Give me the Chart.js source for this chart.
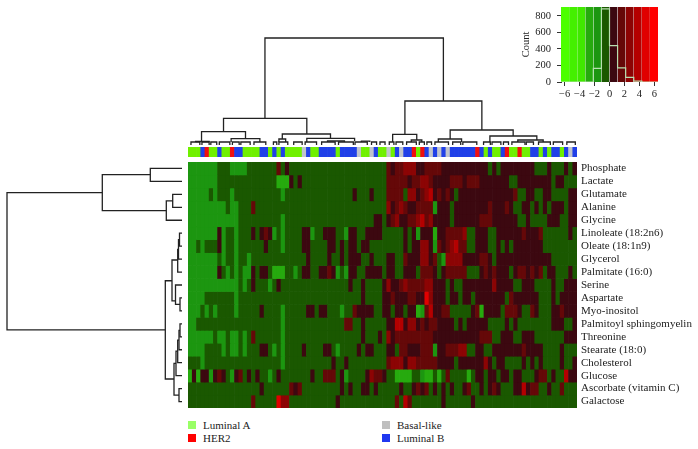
<!DOCTYPE html>
<html>
<head>
<meta charset="utf-8">
<title>Metabolite heatmap</title>
<script src="https://cdn.jsdelivr.net/npm/chart.js@4"></script>
<style>
  html, body { margin: 0; padding: 0; background: #fff; }
  body { position: relative; width: 698px; height: 449px; overflow: hidden; font-family: "Liberation Serif", serif; }
  canvas { position: absolute; }
  .swatch { position: absolute; width: 8px; height: 8px; }
  .legend-text { position: absolute; font-size: 11px; line-height: 12px; color: #222; white-space: nowrap; }
</style>
</head>
<body>
<canvas id="keyChart"></canvas>
<canvas id="topTree"></canvas>
<canvas id="stripChart"></canvas>
<canvas id="leftTree"></canvas>
<canvas id="heatChart"></canvas>
<div id="legend"></div>
<script>
const FONT = "'Liberation Serif', serif";

// Row labels, top to bottom
const rowLabels = ["Phosphate", "Lactate", "Glutamate", "Alanine", "Glycine", "Linoleate (18:2n6)", "Oleate (18:1n9)", "Glycerol", "Palmitate (16:0)", "Serine", "Aspartate", "Myo-inositol", "Palmitoyl sphingomyelin", "Threonine", "Stearate (18:0)", "Cholesterol", "Glucose", "Ascorbate (vitamin C)", "Galactose"];

// Heatmap values per metabolite (whole units away from zero)
const phosphate = [-2,-2,-2,-2,-2,-2,-2,-1,-1,-1,-2,-2,-2,-2,-1,-1,-1,-1,-1,-1,-1,2,-1,1,-1,-1,-1,-1,-1,-1,-1,-1,-1,-1,-1,-1,-1,-1,-1,-1,-1,-1,-1,-1,-1,-1,
  -1,2,1,2,2,3,3,3,1,1,2,2,2,2,1,1,1,1,1,1,1,1,1,1,1,-1,1,-1,1,1,1,1,1,1,1,1,-1,-1,-1,1,-1,-1,-1,1,-1,1];
const lactate = [-2,-2,-2,-2,-2,-2,-2,-1,-1,-1,-1,-1,-1,-1,-1,-1,-1,-1,-1,-1,-1,-3,-3,-3,1,-1,1,-1,-1,-1,-1,-1,-1,-1,-1,-1,-1,-1,-1,-1,-1,-1,-1,-1,-1,-1,
  -1,2,2,2,2,2,1,2,2,3,3,2,1,1,1,1,2,2,2,1,2,2,2,1,1,1,1,1,1,1,-1,-1,1,1,1,1,1,1,1,1,-1,1,1,-1,-1,-1];
const glutamate = [-2,-2,-2,-2,-2,-1,-2,-1,-1,-1,-2,-1,-1,-1,-1,-1,-1,-1,-1,-1,-1,-1,-2,-1,-1,-1,-1,-1,-1,-1,-1,-1,-1,-1,-1,-1,-1,-1,-1,1,-1,-1,-1,1,-1,-1,
  -1,2,2,2,2,-1,3,3,1,2,3,4,1,2,1,2,1,-1,1,1,1,1,1,1,1,1,1,1,1,1,1,2,-1,-1,1,1,-1,-1,1,1,-1,-1,-1,-1,1,1];
const alanine = [-2,-2,-2,-2,-2,-2,-2,-2,-2,-1,-2,-2,-1,-1,-1,2,-1,-1,-1,-1,-1,-1,-1,-1,-1,-1,-1,-1,-1,-1,-1,-1,-1,-1,-1,-1,-1,-1,-1,-1,-1,-1,-1,-1,-1,-1,
  -1,3,1,2,3,2,1,1,2,2,2,2,-2,1,1,1,-1,1,1,1,1,1,1,1,1,2,1,1,1,2,1,-1,-1,1,1,-1,1,-1,1,-1,1,1,1,-1,1,1];
const glycine = [-2,-2,-2,-2,-2,-2,-2,-2,-2,-2,-2,-2,-1,-1,-1,-1,-1,-1,-1,-1,-1,-1,-2,-1,-1,-1,-1,-1,-1,-1,-1,-1,-1,-1,-1,-1,-1,-1,-1,-1,-1,-1,-1,-1,1,1,
  -1,1,2,3,1,1,2,2,3,4,2,3,1,1,1,1,-1,1,1,1,1,1,1,2,2,2,1,1,1,1,1,1,-1,-1,1,-1,-1,-1,-1,1,1,1,-1,-1,1,1];
const linoleate = [-2,-2,-2,-2,-2,-2,-2,1,-2,-1,-1,-2,-1,-1,-1,1,-1,1,2,1,-2,-1,-2,-1,-1,-1,-1,1,1,-2,-1,-1,1,1,1,-1,-1,-2,1,1,-1,-1,1,1,1,1,
  -1,-1,-1,-1,-1,1,-1,1,-2,1,1,1,-3,1,1,2,2,2,2,3,-1,-1,1,1,1,-1,-1,1,1,1,1,1,1,2,1,1,1,2,-1,-1,-1,-1,-1,-1,1,-1];
const oleate = [-2,-2,-1,-2,-1,-1,-1,1,-2,-1,-1,-2,-1,-1,-1,-1,-1,-1,1,-1,-1,-1,-2,-1,-1,-1,-1,1,1,-1,-1,-1,-1,1,1,-1,1,-1,1,1,-1,1,1,-1,-1,-1,
  -1,-1,-1,-1,-1,1,-1,1,1,3,3,1,-2,2,1,2,3,4,2,2,-1,-1,1,1,1,-1,-1,1,-1,1,-1,1,1,1,1,1,1,1,-1,-1,-1,-1,-1,-1,-1,-1];
const glycerol = [-2,-2,-2,-2,-2,-2,-2,-1,-2,-1,-1,-2,-1,-1,-2,-1,-1,-1,-1,-1,-1,-1,-1,-1,-1,-1,-1,-1,1,-1,-1,-1,-1,1,-1,-1,1,-1,1,1,1,-1,-1,1,-1,-1,
  -1,1,1,-1,-1,2,1,1,1,3,3,1,2,-1,-2,3,3,3,3,1,1,1,1,2,2,1,-1,1,1,1,1,1,1,1,1,1,1,1,1,1,-1,-1,-1,-1,-1,-1];
const palmitate = [-2,-2,-2,-2,-2,-2,-2,1,-1,-2,-1,-2,-1,-2,-2,1,-1,1,1,-1,-3,-3,-3,-1,-1,-2,-1,1,1,-1,-1,1,1,2,1,-2,-1,-2,1,1,-1,-1,1,1,1,1,
  -1,1,1,-1,-1,1,1,1,-1,2,2,2,1,-1,1,2,2,2,2,2,-1,-1,-1,1,2,1,2,1,1,1,-1,1,2,2,1,2,1,2,-1,1,1,-1,-1,-1,1,-1];
const serine = [-2,-2,-2,-2,-2,-2,-2,-2,-2,-2,-2,-2,-1,-2,-1,1,-1,-1,-1,-2,-1,1,-1,-1,-1,-1,-1,-1,-1,-1,-1,-1,-1,-1,-1,-1,-1,-1,1,-1,-1,1,-1,-1,-1,-1,
  1,3,1,1,2,3,2,2,2,2,3,3,1,1,1,-1,1,-1,-1,1,1,1,1,1,1,1,3,1,1,1,1,-1,-1,1,1,1,-1,-1,-1,-1,1,-1,-1,1,1,1];
const aspartate = [-2,-2,-2,-2,-1,-1,-1,-1,-1,-1,-1,-2,-1,-1,-1,-1,-1,-1,-1,-1,-1,-1,-1,-1,-1,-1,-1,-1,-1,-1,-1,-1,-1,-1,-1,-1,-1,-1,-1,-1,-1,1,-1,-1,-1,-1,
  1,1,2,1,1,1,2,2,1,1,5,3,1,1,1,-1,1,1,-1,1,1,-1,1,1,1,1,1,1,1,-1,2,1,1,1,1,1,1,-1,-1,-1,1,-1,1,1,1,1];
const myoInositol = [-2,-2,-2,-1,-2,-1,-2,-1,-1,-1,-1,-2,-1,-1,-1,-1,-1,1,-1,-1,-1,-1,-2,-1,-1,-1,-1,-1,1,1,-1,1,1,-1,-1,-1,-2,-1,-1,2,1,1,1,1,-1,-1,
  1,1,-1,1,1,-1,1,1,-3,-2,2,4,1,1,2,2,-1,-1,-1,-1,-1,1,2,-3,1,1,1,1,-1,2,2,2,1,-1,-1,2,1,-1,-1,-1,1,1,2,1,1,1];
const palmitoyl = [-2,-2,-1,-1,-1,-1,-1,-1,-1,-1,-1,-1,-1,-1,-1,-1,-1,-1,-1,-1,-1,-1,-2,-1,-1,-1,-1,-1,-1,-1,-1,-1,-1,-1,-1,-1,-1,2,2,-1,-1,1,-1,-1,-1,-1,
  -1,1,1,4,4,1,3,3,1,2,1,2,2,1,1,1,1,-1,1,-1,1,1,1,1,1,-1,-1,-1,-1,1,-1,1,-1,-1,-1,-1,-1,-1,-1,-1,1,1,1,-1,-1,1];
const threonine = [-2,-2,-2,-2,-2,-2,-1,-2,-2,-1,-2,-2,-1,-2,-1,2,-1,-1,-1,-1,-1,-1,-2,-1,-1,-1,-1,-1,-1,-1,-1,-1,-1,-1,-1,-1,-1,-1,-1,-1,-1,1,-1,-1,-1,1,
  -1,3,1,2,2,2,2,2,2,2,2,2,1,1,1,1,1,1,1,1,1,1,1,2,2,2,-1,-1,1,1,1,-1,-1,1,1,1,-1,-1,-1,-1,-1,-1,-1,1,1,1];
const stearate = [-2,-2,-2,-2,-1,-1,-1,-1,-2,-1,-2,-2,-1,-2,-1,-1,-1,1,1,-1,-2,-1,-2,-1,-1,-1,-1,1,-1,-1,-1,-1,1,1,-1,-2,-1,-1,-1,-1,1,-1,1,1,-1,-1,
  -1,1,1,-1,2,2,1,1,1,2,2,2,-2,1,1,2,2,2,3,3,-1,-1,1,1,-1,-1,1,1,1,1,1,1,1,2,1,1,1,1,-1,-1,-1,-1,1,-1,-1,-1];
const cholesterol = [-1,-1,-1,-2,-1,-1,-1,-1,-1,-1,-1,-1,-1,-1,-1,-1,-1,-1,-1,-1,-1,-1,-2,-1,-1,-1,-1,-1,-1,-1,-1,-1,-1,-1,1,-1,-1,1,-1,-1,-1,-1,-1,-1,-1,-1,
  -1,2,3,3,3,1,3,3,2,2,2,2,2,1,1,1,1,-1,1,1,1,1,1,1,3,1,-1,1,1,-1,-1,-1,-1,1,-1,1,-1,1,-1,-1,-1,-1,1,-1,-1,1];
const glucose = [-3,1,-3,1,1,-2,1,2,1,-1,-2,1,2,-1,1,-1,1,-1,-1,-2,-1,1,-1,-1,-1,-1,-1,-1,-1,1,-1,-1,2,2,2,-1,1,-2,-1,-1,-1,-1,1,3,2,2,
  1,-1,-1,-3,-3,-3,-3,-1,-1,-2,-3,-3,-1,-3,-1,2,-1,-1,-1,-1,-3,-1,1,1,-1,1,1,-1,1,1,-1,1,1,-1,-1,-1,1,2,2,-1,1,-1,-1,4,1,1];
const ascorbate = [-1,-1,-1,-1,-1,-1,-1,-1,-1,-1,-1,-1,-1,-1,-1,-1,-1,1,-1,-1,-1,-1,-1,-1,2,1,2,-1,-1,-1,-1,-1,-1,-1,-1,-1,1,-1,1,-1,-1,1,1,-1,1,-1,
  -1,-1,-1,-1,1,-1,-1,1,2,1,2,-1,1,-1,1,-1,1,-1,-1,1,2,-1,-1,1,-1,1,2,1,-1,-1,-1,1,1,4,1,2,2,-1,-1,1,-1,-1,2,-1,-1,-1];
const galactose = [-1,-1,-1,-1,-1,-1,-1,-1,-1,-1,-1,-1,-1,-1,-1,2,-1,-1,-1,-1,-1,5,3,3,-1,-1,-1,-1,-1,-1,-1,-1,-1,-1,-1,1,-1,-1,-1,-1,-1,-1,-1,-1,-1,-1,
  -1,-1,-1,2,-1,4,2,-1,-1,-1,-1,-1,-1,-1,1,-1,-1,-1,-1,-1,-1,1,-1,-1,-1,-1,-1,-1,-1,-1,-1,-1,-1,-1,-1,-1,-1,-1,-1,-1,-1,-1,-1,-1,-1,-1];

// Subtype of each sample, left to right (A Luminal A, B Luminal B, H HER2, G Basal-like)
const sampleTypes = ["A","A","A","B","H","A","A","B","A","A","H","B","B","A","A","A","A","B","B","A","B","A","B","A","A","A","A","G","B","A","A","B","B","B","B","A","B","B","B","B","G","A","A","G","B","A",
  "A","G","A","B","G","B","B","H","A","H","B","G","B","G","B","G","B","B","B","B","B","B","H","B","A","B","A","A","B","H","A","A","H","A","A","B","B","A","B","A","B","B","A","B","G","B"];

// Colour key: band edges, band colours, histogram of the values
const keyBreaks = [-6.48,-5.4,-4.32,-3.24,-2.16,-1.08,0,1.08,2.16,3.24,4.32,5.4,6.48];
const keyColors = ["#4cff00","#44f000","#40e800","#26aa0e","#1c9610","#1a5800","#3c0810","#650808","#8c0404","#b40000","#e00000","#ff0000"];
const histCounts = [0,0,0,0,165,885,440,170,55,10,0,0];
const keyXTicks = [-6,-4,-2,0,2,4,6];

// Column dendrogram: [left, right, height, left child height, right child height]
const topMerges = [
  [18.2,60.4,107,26.7,44],[8.4,28.1,26.7,13.3,11],[3.2,13.6,13.3,3.5,6.3],[22.3,33.7,11,6,6.7],
  [51.3,69.5,44,10.7,15],[48.4,54.1,10.7,3,5],[62,76.9,15,6,9],[59.2,64.7,6,3,3],[71.4,82.5,9,3,5],
  [10.2,17,6.3,3,3],[21.5,23.1,6,3,3],[28.1,39.4,6.7,3,4],[1.8,5,3.5,3,3],[33,37,4,3,3],[41,43,3.8,3,3],[78,84,5,3,3],[52.8,55.3,5,3,3],
  [0.7,2.8,3,0,0],[3.3,5,3,0,0],[5.4,6.8,3,0,0],[7.4,9.9,3,0,0],[10.5,12.1,3,0,0],[12.5,14.7,3,0,0],[15.6,18.4,3,0,0],[20.2,21,3,0,0],[21.5,23.6,3,0,0],[25,27,3,0,0],[27.7,30.4,3,0,0],[31.6,34.8,3,0,0],[35.6,39.1,3,0,0],[39.5,42.4,3,0,0],[43.4,44.6,3,0,0],
  [45.4,46.6,3,0,0],[47.6,48.7,3,0,0],[49.2,50.8,3,0,0],[51.7,54,3,0,0],[54.7,55.9,3,0,0],[56.5,57.6,3,0,0],[58.4,61.6,3,0,0],[62.6,64.5,3,0,0],[65,68.3,3,0,0],[69.9,71.5,3,0,0],[71.9,74,3,0,0],[74.6,75.8,3,0,0],[76.6,79.7,3,0,0],[80,81.7,3,0,0],[82.9,85.7,3,0,0],[86.4,88.6,3,0,0],[89.6,91.6,3,0,0]
];

// Row dendrogram: [upper row, lower row, distance, upper child distance, lower child distance]
const leftMerges = [
  [2.37,12.97,175,79.7,16.7],[0.98,3.76,79.7,31.7,15.7],[0.5,1.5,31.7,0,0],[3,4.5,15.7,9.3,0],[2.5,3.5,9.3,0,0],
  [9.17,16.76,16.7,10,8],[7.57,10.73,10,4.3,6.5],[5.5,6.5,2.5,0,0],[6,7.5,3.5,2.5,0],[6.75,8.5,4.3,3.5,0],
  [9.5,11,6.5,0,2],[10.5,11.5,2,0,0],[12.5,13.5,2,0,0],[13,14.5,3,2,0],[13.75,15.5,4.3,3,0],[14.6,16.5,6,4.3,0],
  [17.5,18.5,3,0,0],[15.55,18,8,6,3]
];

const legendItems = [
  { label: "Luminal A", color: "#99ff66", left: 188, top: 421 },
  { label: "HER2", color: "#ff0000", left: 188, top: 434 },
  { label: "Basal-like", color: "#bfbfbf", left: 382, top: 421 },
  { label: "Luminal B", color: "#2038f0", left: 382, top: 434 },
];
const typeColors = { A: "#70f000", B: "#2040e8", H: "#f01010", G: "#c0c4cc" };

const rows = [phosphate, lactate, glutamate, alanine, glycine, linoleate, oleate, glycerol, palmitate, serine, aspartate, myoInositol, palmitoyl, threonine, stearate, cholesterol, glucose, ascorbate, galactose];
const columns = sampleTypes.map((t, i) => "S" + (i + 1));

// Band colour of a heat value: -1 is the band just under zero, 1 the band just over
function heatColor(v) {
  return keyColors[v < 0 ? 6 + v : 5 + v];
}

function place(id, left, top, width, height) {
  const canvas = document.getElementById(id);
  canvas.width = width;
  canvas.height = height;
  canvas.style.left = left + "px";
  canvas.style.top = top + "px";
  canvas.style.width = width + "px";
  canvas.style.height = height + "px";
  return canvas;
}

const baseOptions = {
  responsive: false,
  animation: false,
  events: [],
  plugins: { legend: { display: false }, tooltip: { enabled: false } },
};

// Heatmap: stacked bars, one dataset per row
new Chart(place("heatChart", 188, 162, 510, 246), {
  type: "bar",
  data: {
    labels: columns,
    datasets: rows.map((row, i) => ({
      label: rowLabels[i],
      data: row.map(() => 1),
      backgroundColor: row.map(heatColor),
      borderWidth: 0,
      barPercentage: 1,
      categoryPercentage: 1,
    })),
  },
  options: {
    ...baseOptions,
    scales: {
      x: { stacked: true, display: false },
      y: {
        stacked: true,
        position: "right",
        reverse: true,
        min: 0,
        max: rows.length,
        grid: { display: false, drawTicks: false },
        border: { display: false },
        afterBuildTicks: (scale) => {
          scale.ticks = rowLabels.map((_, i) => ({ value: i + 0.5 }));
        },
        afterFit: (scale) => {
          scale.width = 121;
          scale.paddingTop = 0;
          scale.paddingBottom = 0;
        },
        ticks: {
          autoSkip: false,
          padding: 4,
          color: "#222",
          font: { family: FONT, size: 11 },
          callback: (v) => rowLabels[Math.floor(v)],
        },
      },
    },
  },
});

// Annotation strip above the heatmap
new Chart(place("stripChart", 188, 147, 389, 10), {
  type: "bar",
  data: {
    labels: columns,
    datasets: [{
      data: sampleTypes.map(() => 1),
      backgroundColor: sampleTypes.map((t) => typeColors[t]),
      borderWidth: 0,
      barPercentage: 1,
      categoryPercentage: 1,
    }],
  },
  options: {
    ...baseOptions,
    scales: {
      x: { display: false },
      y: { display: false, min: 0, max: 1 },
    },
  },
});

function treeDataset(points) {
  return { data: points, showLine: true, pointRadius: 0, borderColor: "#222", borderWidth: 1.3, tension: 0, clip: false };
}

// Column dendrogram
new Chart(place("topTree", 188, 30, 389, 115), {
  type: "scatter",
  data: {
    datasets: topMerges.map(([l, r, h, hl, hr]) => treeDataset([
      { x: l, y: hl }, { x: l, y: h }, { x: r, y: h }, { x: r, y: hr },
    ])),
  },
  options: {
    ...baseOptions,
    scales: {
      x: { display: false, min: 0, max: columns.length },
      y: { display: false, min: 0, max: 115 },
    },
  },
});

// Row dendrogram
new Chart(place("leftTree", 0, 162, 182, 246), {
  type: "scatter",
  data: {
    datasets: leftMerges.map(([a, b, d, da, db]) => treeDataset([
      { x: da, y: a }, { x: d, y: a }, { x: d, y: b }, { x: db, y: b },
    ])),
  },
  options: {
    ...baseOptions,
    scales: {
      x: { display: false, reverse: true, min: 0, max: 182 },
      y: { display: false, reverse: true, min: 0, max: rows.length },
    },
  },
});

// Colour key with histogram
const keyTop = 908;
const bandSets = keyColors.map((color, i) => ({
  type: "line",
  data: [{ x: keyBreaks[i], y: keyTop }, { x: keyBreaks[i + 1], y: keyTop }],
  fill: "origin",
  backgroundColor: color,
  borderColor: color,
  borderWidth: 0,
  pointRadius: 0,
  order: 2,
}));
const histPoints = [];
histCounts.forEach((count, i) => {
  histPoints.push({ x: keyBreaks[i], y: count }, { x: keyBreaks[i + 1], y: count });
});
new Chart(place("keyChart", 520, 0, 150, 104), {
  type: "line",
  data: {
    datasets: [
      ...bandSets,
      { type: "line", data: histPoints, borderColor: "#b8e0b0", borderWidth: 1.2, pointRadius: 0, fill: false, order: 1 },
    ],
  },
  options: {
    ...baseOptions,
    layout: { padding: { top: 7, right: 12 } },
    scales: {
      x: {
        type: "linear",
        min: -6.48,
        max: 6.48,
        grid: { drawOnChartArea: false, tickLength: 4, color: "#333" },
        border: { display: false },
        afterBuildTicks: (scale) => { scale.ticks = keyXTicks.map((value) => ({ value })); },
        afterFit: (scale) => {
          scale.height = 22;
          scale.paddingLeft = 0;
          scale.paddingRight = 0;
        },
        ticks: { color: "#222", padding: 2, maxRotation: 0, font: { family: FONT, size: 10.5 }, callback: (v) => String(v).replace("-", "\u2212") },
      },
      y: {
        min: 0,
        max: keyTop,
        grid: { drawOnChartArea: false, tickLength: 4, color: "#333" },
        border: { color: "#333" },
        title: { display: true, text: "Count", color: "#222", padding: 0, font: { family: FONT, size: 10.5 } },
        afterFit: (scale) => {
          scale.width = 41;
          scale.paddingTop = 0;
          scale.paddingBottom = 0;
        },
        afterBuildTicks: (scale) => { scale.ticks = [0, 200, 400, 600, 800].map((value) => ({ value })); },
        ticks: { color: "#222", padding: 6, font: { family: FONT, size: 10.5 } },
      },
    },
  },
});

// Subtype legend
const legendBox = document.getElementById("legend");
legendItems.forEach((item) => {
  legendBox.innerHTML += `<div class="swatch" style="left:${item.left}px;top:${item.top}px;background:${item.color}"></div>` +
    `<div class="legend-text" style="left:${item.left + 15}px;top:${item.top - 2}px">${item.label}</div>`;
});
</script>
</body>
</html>
